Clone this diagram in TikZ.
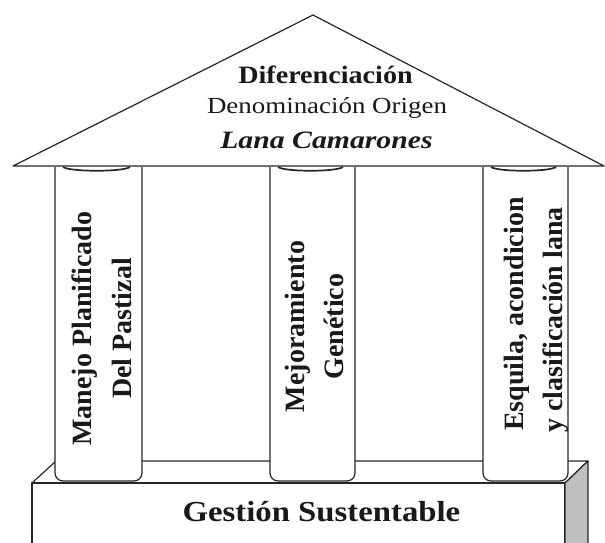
\documentclass[tikz,border=0pt]{standalone}
\usepackage{fontspec}
\setmainfont{Liberation Serif}
\newfontfamily\stretchA[FakeStretch=1.125]{Liberation Serif}
\newfontfamily\stretchB[FakeStretch=1.17]{Liberation Serif}
\newfontfamily\stretchC[FakeStretch=1.19]{Liberation Serif}
\newfontfamily\stretchD[FakeStretch=1.13]{Liberation Serif}
\begin{document}
\begin{tikzpicture}[x=1pt,y=-1pt,line join=round,
  edge/.style={draw=black!85,line width=1.2pt},
  pillarbody/.style={edge,fill=white,rounded corners=8pt},
  capline/.style={draw=black!85,line width=1.7pt},
  ptext/.style={rotate=90,anchor=base,inner sep=0pt,text=black!90,font=\fontsize{28}{28}\selectfont\bfseries},
  ltext/.style={anchor=base,inner sep=0pt,text=black!90}]
\useasboundingbox (0,0) rectangle (605,542);
\fill[white] (0,0) rectangle (605,542);
% base block
\draw[edge,fill=white] (32,483) -- (56,461) -- (588,461) -- (565,483) -- cycle;
\draw[edge,fill=white] (32,545) -- (32,483) -- (565,483) -- (565,545);
\draw[edge,fill=black!25] (565,545) -- (565,483) -- (588,461) -- (588,545);
% pillars
\foreach \L/\R in {55/142,270/355,483/568}{
  \draw[pillarbody] (\L,167) -- (\L,481) -- (\R,481) -- (\R,167);
}
% roof
\draw[edge,fill=white] (13,166) -- (313,15) -- (604,166) -- cycle;
\foreach \L/\R in {55/142,270/355,483/568}{
  \draw[capline] (\L+8,167) .. controls (\L+15,172) and (\R-19,172) .. (\R-12,167);
}
% roof texts
\node[ltext,font=\stretchA\fontsize{25}{25}\selectfont\bfseries] (dif) at (325.5,83) {Diferenciación};
\node[ltext,font=\stretchB\fontsize{23}{23}\selectfont] (den) at (327,113) {Denominación Origen};
\node[ltext,font=\stretchC\fontsize{25}{25}\selectfont\bfseries\itshape] (lana) at (326.5,148) {Lana Camarones};
% pillar texts
\node[ptext] (p1a) at (91,328.5) {Manejo Planificado};
\node[ptext] (p1b) at (131,328.5) {Del Pastizal};
\node[ptext] (p2a) at (304,326.5) {Mejoramiento};
\node[ptext] (p2b) at (343,326.5) {Genético};
\node[ptext] (p3a) at (523,314) {Esquila, acondicion};
\node[ptext] (p3b) at (562,320) {y clasificación lana};
% base text
\node[ltext,font=\stretchD\fontsize{29}{29}\selectfont\bfseries] (gest) at (321.5,521) {Gestión Sustentable};
\end{tikzpicture}
\end{document}
